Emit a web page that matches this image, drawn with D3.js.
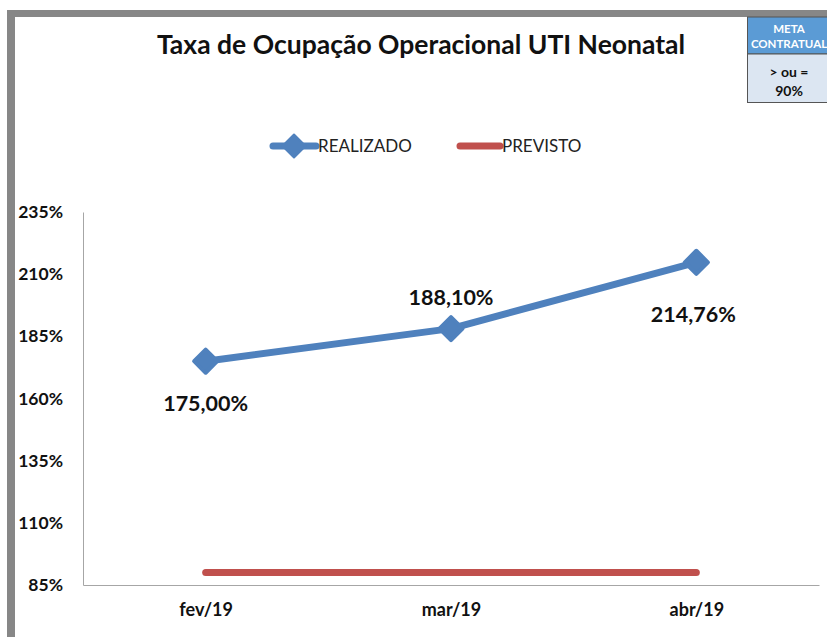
<!DOCTYPE html>
<html>
<head>
<meta charset="utf-8">
<script src="https://cdn.jsdelivr.net/npm/d3@7"></script>
<style>
  body { margin: 0; background: #fff; }
  text { font-family: Lato, 'Open Sans', sans-serif; }
</style>
</head>
<body>
<div id="chart"></div>
<script>
// Data
const months = ['fev/19', 'mar/19', 'abr/19'];
const realizado = [175.0, 188.1, 214.76];
const previsto = [90, 90, 90];
const yTicks = [85, 110, 135, 160, 185, 210, 235];
const seriesNames = ['REALIZADO', 'PREVISTO'];

const width = 827;
const height = 637;
const margin = { t: 212, r: 8, b: 52, l: 83 };

const blue = '#4f81bd';
const red = '#c0504d';

const svg = d3
  .select('#chart')
  .append('svg')
  .attr('width', width)
  .attr('height', height);

// gray frame (top + left edge)
svg.append('rect').attr('x', 7).attr('y', 10).attr('width', width - 7).attr('height', 7).attr('fill', '#878787');
svg.append('rect').attr('x', 7).attr('y', 10).attr('width', 8).attr('height', height - 10).attr('fill', '#878787');

// title
svg
  .append('text')
  .attr('x', 421)
  .attr('y', 54)
  .attr('text-anchor', 'middle')
  .style('font-size', '26.5px')
  .style('font-weight', 'bold')
  .attr('fill', '#111')
  .text('Taxa de Ocupação Operacional UTI Neonatal');

// meta contratual box
const meta = svg.append('g');
meta.append('rect').attr('x', 747.5).attr('y', 17).attr('width', 90).attr('height', 37).attr('fill', '#5b9bd5').attr('stroke', '#555');
meta.append('rect').attr('x', 747.5).attr('y', 54).attr('width', 90).attr('height', 48.5).attr('fill', '#dce6f2').attr('stroke', '#555');
meta.append('text').attr('x', 789).attr('y', 33).attr('text-anchor', 'middle').attr('fill', '#fff')
  .style('font-size', '11.5px').style('font-weight', 'bold').text('META');
meta.append('text').attr('x', 789).attr('y', 48).attr('text-anchor', 'middle').attr('fill', '#fff')
  .style('font-size', '11.5px').style('font-weight', 'bold').text('CONTRATUAL');
meta.append('text').attr('x', 789).attr('y', 77).attr('text-anchor', 'middle').attr('fill', '#111')
  .style('font-size', '14px').style('font-weight', 'bold').text('> ou =');
meta.append('text').attr('x', 789).attr('y', 96).attr('text-anchor', 'middle').attr('fill', '#111')
  .style('font-size', '14px').style('font-weight', 'bold').text('90%');

// scales
const x = d3.scalePoint().domain(months).range([margin.l, width - margin.r]).padding(0.5);
const y = d3.scaleLinear().domain([85, 235]).range([height - margin.b, margin.t]);

// axes
const yAxis = svg
  .append('g')
  .attr('transform', `translate(${margin.l},0)`)
  .call(d3.axisLeft(y).tickValues(yTicks).tickSize(0).tickPadding(20).tickFormat((d) => `${d}%`));
yAxis.select('.domain').attr('stroke', '#a6a6a6');
yAxis.selectAll('text').style('font-size', '17.5px').style('font-weight', 'bold').attr('fill', '#111')
  .style('font-family', 'Lato, sans-serif');

const xAxis = svg
  .append('g')
  .attr('transform', `translate(0,${height - margin.b})`)
  .call(d3.axisBottom(x).tickSize(0).tickPadding(18));
xAxis.select('.domain').attr('stroke', '#a6a6a6');
xAxis.selectAll('text').style('font-size', '18px').style('font-weight', 'bold').attr('fill', '#111')
  .style('font-family', 'Lato, sans-serif');

// previsto line
const line = d3.line().x((d, i) => x(months[i])).y((d) => y(d));

svg
  .append('path')
  .datum(previsto)
  .attr('d', line)
  .attr('fill', 'none')
  .attr('stroke', red)
  .attr('stroke-width', 7)
  .attr('stroke-linecap', 'round');

// realizado line
svg
  .append('path')
  .datum(realizado)
  .attr('d', line)
  .attr('fill', 'none')
  .attr('stroke', blue)
  .attr('stroke-width', 7)
  .attr('stroke-linejoin', 'round');

const diamond = d3.symbol().type(d3.symbolDiamond2).size(340);

svg
  .selectAll('.marker')
  .data(realizado)
  .join('path')
  .attr('class', 'marker')
  .attr('transform', (d, i) => `translate(${x(months[i])},${y(d)})`)
  .attr('d', diamond)
  .attr('fill', blue)
  .attr('stroke', blue)
  .attr('stroke-width', 4)
  .attr('stroke-linejoin', 'round');

// data labels (excel put them below / above / below)
const labelDy = [50, -24, 60];
const fmt = (v) => `${d3.format('.2f')(v).replace('.', ',')}%`;

svg
  .selectAll('.lbl')
  .data(realizado)
  .join('text')
  .attr('class', 'lbl')
  .attr('x', (d, i) => x(months[i]) - (i === 2 ? 3 : 0))
  .attr('y', (d, i) => y(d) + labelDy[i])
  .attr('text-anchor', 'middle')
  .style('font-size', '21.5px')
  .style('font-weight', 'bold')
  .attr('fill', '#111')
  .text(fmt);

// legend
const legend = svg.append('g').attr('class', 'legend');

legend.append('line').attr('x1', 273).attr('x2', 316).attr('y1', 146).attr('y2', 146)
  .attr('stroke', blue).attr('stroke-width', 7).attr('stroke-linecap', 'round');
legend.append('path').attr('transform', 'translate(294,146)').attr('d', diamond)
  .attr('fill', blue).attr('stroke', blue).attr('stroke-width', 2).attr('stroke-linejoin', 'round');
legend.append('text').attr('x', 318).attr('y', 152).style('font-size', '17px').attr('fill', '#222')
  .text(seriesNames[0]);

legend.append('line').attr('x1', 460).attr('x2', 500).attr('y1', 146).attr('y2', 146)
  .attr('stroke', red).attr('stroke-width', 7).attr('stroke-linecap', 'round');
legend.append('text').attr('x', 502).attr('y', 152).style('font-size', '17px').attr('fill', '#222')
  .text(seriesNames[1]);
</script>
</body>
</html>
